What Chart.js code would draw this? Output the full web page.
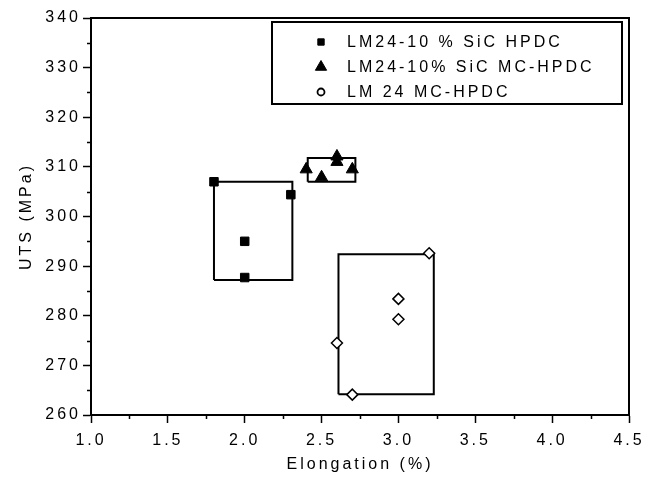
<!DOCTYPE html>
<html>
<head>
<meta charset="utf-8">
<title>UTS vs Elongation</title>
<script src="https://cdn.jsdelivr.net/npm/chart.js@4.4.1/dist/chart.umd.min.js"></script>
<style>
  html, body { margin: 0; padding: 0; background: #fff; }
  #wrap { width: 660px; height: 485px; }
</style>
</head>
<body>
<div id="wrap"><canvas id="uts-chart" width="660" height="485"></canvas></div>
<script>
/* ══════════════════════════════════════
   UTS vs Elongation — scatter with boxes
══════════════════════════════════════ */

// ── Series ──
const SERIES_NAMES = ['LM24-10 % SiC HPDC', 'LM24-10% SiC MC-HPDC', 'LM 24 MC-HPDC'];

const hpdcX  = [1.8, 2.3, 2.0, 2.0];
const hpdcY  = [307.0, 304.4, 295.0, 287.7];

const mcSicX = [2.4, 2.5, 2.6, 2.6, 2.7];
const mcSicY = [309.5, 307.9, 312.1, 311.0, 309.5];

const mcX    = [3.2, 3.0, 3.0, 2.6, 2.7];
const mcY    = [292.6, 283.4, 279.3, 274.5, 264.1];

// ── Range boxes (x from/to, y from/to) ──
const hpdcBoxX  = [1.8, 2.31];
const hpdcBoxY  = [287.2, 307.0];
const mcSicBoxX = [2.41, 2.72];
const mcSicBoxY = [307.0, 311.8];
const mcBoxX    = [2.61, 3.23];
const mcBoxY    = [264.2, 292.4];

// ── Axis ticks ──
const xTicks      = [1.0, 1.5, 2.0, 2.5, 3.0, 3.5, 4.0, 4.5];
const xMinorTicks = [1.25, 1.75, 2.25, 2.75, 3.25, 3.75, 4.25];
const yTicks      = [260, 270, 280, 290, 300, 310, 320, 330, 340];
const yMinorTicks = [265, 275, 285, 295, 305, 315, 325, 335];

const INK  = '#000';
const FONT = '"Liberation Sans", Arial, sans-serif';

function toPoints(xs, ys) {
  return xs.map(function(x, i) { return { x: x, y: ys[i] }; });
}

function boxPath(xs, ys) {
  return [
    { x: xs[0], y: ys[0] },
    { x: xs[1], y: ys[0] },
    { x: xs[1], y: ys[1] },
    { x: xs[0], y: ys[1] },
    { x: xs[0], y: ys[0] },
  ];
}

function boxDataset(xs, ys) {
  return {
    data        : boxPath(xs, ys),
    showLine    : true,
    borderColor : INK,
    borderWidth : 2,
    pointRadius : 0,
    tension     : 0,
    fill        : false,
    order       : 2,
  };
}

// ── Legend markers (drawn in custom legend) ──
const LEGEND_MARKERS = [
  { pointStyle: 'rect',     radius: 4.5, fill: INK,    borderWidth: 1 },
  { pointStyle: 'triangle', radius: 6.5, fill: INK,    borderWidth: 1 },
  { pointStyle: 'circle',   radius: 3.5, fill: '#fff', borderWidth: 1.8 },
];

// ── Plugin: frame, minor ticks, legend ──
const framePlugin = {
  id: 'frame',
  beforeDraw: function(chart) {
    chart.ctx.letterSpacing = '3px';
  },
  afterDraw: function(chart) {
    var ctx  = chart.ctx;
    var area = chart.chartArea;
    var xs   = chart.scales.x;
    var ys   = chart.scales.y;

    ctx.save();
    ctx.strokeStyle = INK;
    ctx.lineWidth   = 2;
    ctx.strokeRect(area.left, area.top, area.right - area.left, area.bottom - area.top);

    // minor ticks
    ctx.lineWidth = 1.5;
    ctx.beginPath();
    xMinorTicks.forEach(function(v) {
      var px = Math.round(xs.getPixelForValue(v)) + 0.5;
      ctx.moveTo(px, area.bottom);
      ctx.lineTo(px, area.bottom + 4);
    });
    yMinorTicks.forEach(function(v) {
      var py = Math.round(ys.getPixelForValue(v)) + 0.5;
      ctx.moveTo(area.left, py);
      ctx.lineTo(area.left - 4, py);
    });
    ctx.stroke();

    // legend box
    var lx = area.right - 357;
    var ly = area.top + 4;
    ctx.lineWidth = 2;
    ctx.strokeRect(lx, ly, 350, 82);

    ctx.font          = '16px ' + FONT;
    ctx.textBaseline  = 'middle';
    ctx.textAlign     = 'left';
    ctx.letterSpacing = '3px';
    SERIES_NAMES.forEach(function(name, i) {
      var rowY   = ly + 20 + i * 25;
      var marker = LEGEND_MARKERS[i];
      ctx.fillStyle   = marker.fill;
      ctx.strokeStyle = INK;
      ctx.lineWidth   = marker.borderWidth;
      Chart.helpers.drawPoint(ctx, marker, lx + 49, rowY);
      ctx.fillStyle = INK;
      ctx.fillText(name, lx + 75, rowY + 1);
    });
    ctx.restore();
  },
};

// ── Draw chart ──
function drawUtsChart() {
  var ctx = document.getElementById('uts-chart').getContext('2d');

  new Chart(ctx, {
    type : 'scatter',
    data : {
      datasets : [
        {
          label           : SERIES_NAMES[0],
          data            : toPoints(hpdcX, hpdcY),
          pointStyle      : 'rect',
          pointRadius     : 6,
          backgroundColor : INK,
          borderColor     : INK,
          borderWidth     : 1,
          order           : 1,
        },
        {
          label           : SERIES_NAMES[1],
          data            : toPoints(mcSicX, mcSicY),
          pointStyle      : 'triangle',
          pointRadius     : 7,
          backgroundColor : INK,
          borderColor     : INK,
          borderWidth     : 1,
          order           : 1,
        },
        {
          label           : SERIES_NAMES[2],
          data            : toPoints(mcX, mcY),
          pointStyle      : 'rectRot',
          pointRadius     : 5.5,
          backgroundColor : '#fff',
          borderColor     : INK,
          borderWidth     : 1.5,
          order           : 1,
        },
        boxDataset(hpdcBoxX, hpdcBoxY),
        boxDataset(mcSicBoxX, mcSicBoxY),
        boxDataset(mcBoxX, mcBoxY),
      ],
    },
    options : {
      responsive : false,
      animation  : false,
      layout     : { padding: { top: 18, right: 31, left: 0, bottom: 0 } },
      plugins    : {
        legend  : { display: false },
        tooltip : { enabled: false },
      },
      scales : {
        x : {
          type     : 'linear',
          min      : xTicks[0],
          max      : xTicks[xTicks.length - 1],
          afterFit : function(scale) { scale.height = 70; },
          afterBuildTicks : function(scale) {
            scale.ticks = xTicks.map(function(v) { return { value: v }; });
          },
          border : { display: true, color: INK, width: 2 },
          grid   : { drawOnChartArea: false, tickLength: 8, color: INK, tickWidth: 1.5 },
          ticks  : {
            padding  : 8,
            color    : INK,
            font     : { family: FONT, size: 16 },
            callback : function(value) { return value.toFixed(1); },
          },
          title : {
            display : true,
            text    : 'Elongation (%)',
            color   : INK,
            font    : { family: FONT, size: 16 },
            padding : { top: 0, bottom: 11 },
          },
        },
        y : {
          type     : 'linear',
          min      : yTicks[0],
          max      : yTicks[yTicks.length - 1],
          afterFit : function(scale) { scale.width = 91; },
          afterBuildTicks : function(scale) {
            scale.ticks = yTicks.map(function(v) { return { value: v }; });
          },
          border : { display: true, color: INK, width: 2 },
          grid   : { drawOnChartArea: false, tickLength: 8, color: INK, tickWidth: 1.5 },
          ticks  : {
            padding : 2,
            color   : INK,
            font    : { family: FONT, size: 16 },
          },
          title : {
            display : true,
            text    : 'UTS (MPa)',
            color   : INK,
            font    : { family: FONT, size: 16 },
            padding : { top: 17, bottom: 0 },
          },
        },
      },
    },
    plugins : [framePlugin],
  });
}

drawUtsChart();
</script>
</body>
</html>
